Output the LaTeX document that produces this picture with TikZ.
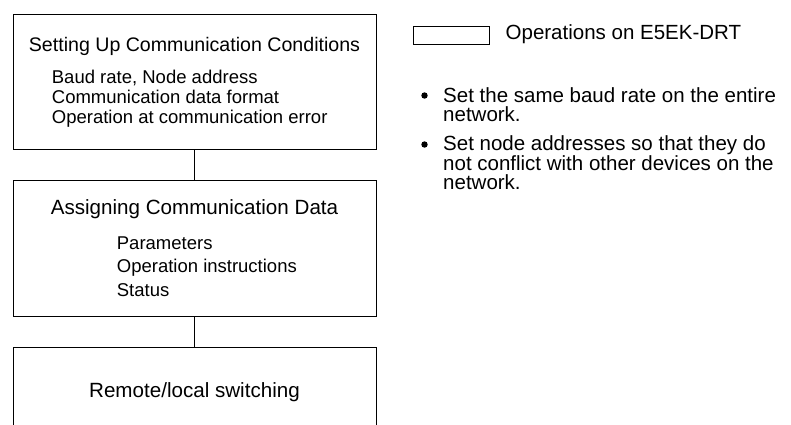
\documentclass[tikz,border=0pt]{standalone}
\usepackage{fontspec}
\setmainfont{Liberation Sans}
\usepackage{tikz}
\usetikzlibrary{positioning}

\begin{document}
\begin{tikzpicture}[
        x=1pt, y=-1pt,
        stage/.style={
            draw,
            line width=0.9pt,
            minimum width=363pt,
            minimum height=135pt,
            inner sep=0pt
        },
        heading/.style={anchor=base, inner sep=0pt, font=\fontsize{20.6}{24}\selectfont},
        items/.style={anchor=base west, align=left, inner sep=0pt},
        note/.style={anchor=base west, align=left, inner sep=0pt, font=\fontsize{20.5}{18.7}\selectfont},
        link/.style={line width=0.9pt}
    ]
        \useasboundingbox (0,0) rectangle (791,424);
        \clip (0,0) rectangle (791,424);

        % flow of the setup steps
        \node[stage] (setup) at (194.5,81.5) {};
        \node[stage, minimum height=136pt, below=31pt of setup] (assign) {};
        \node[stage, below=30pt of assign] (remote) {};

        \node[heading, font=\fontsize{19.6}{24}\selectfont] (setuptitle) at (194.5,51) {Setting Up Communication Conditions};
        % multi-line nodes: base = last line
        \node[items, font=\fontsize{18.5}{19.7}\selectfont] (setuplist) at (51.7,123)
            {Baud rate, Node address\\Communication data format\\Operation at communication error};

        \node[heading] (assigntitle) at (194.5,214) {Assigning Communication Data};
        \node[items, font=\fontsize{18.5}{23.4}\selectfont] (assignlist) at (116.7,296)
            {Parameters\\Operation instructions\\Status};

        \node[heading] (remotetitle) at (194.5,397) {Remote/local switching};

        \draw[link] (setup) -- (assign);
        \draw[link] (assign) -- (remote);

        % legend and notes
        \node[draw, line width=0.9pt, minimum width=76pt, minimum height=18pt, inner sep=0pt] (legendbox) at (451,35.8) {};
        \node[note, right=16pt of legendbox.east, anchor=base west, yshift=-4pt] (legendtext) {Operations on E5EK-DRT};

        \node[note] (baudnote) at (443,121) {Set the same baud rate on the entire\\network.};
        \node[note] (addrnote) at (443,189) {Set node addresses so that they do\\not conflict with other devices on the\\network.};
        \fill (424.5,95.5) circle (3.2pt);
        \fill (424.5,144.5) circle (3.2pt);
    \end{tikzpicture}
\end{document}
